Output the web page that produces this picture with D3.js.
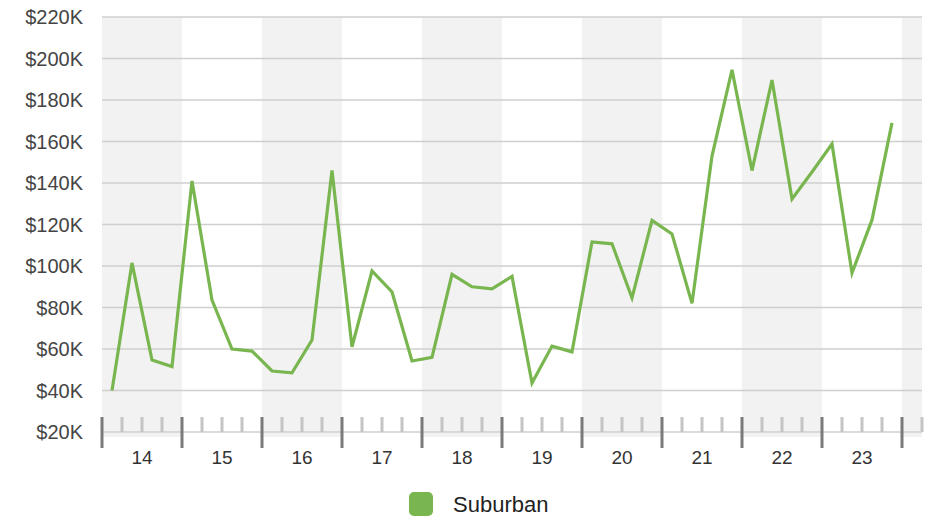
<!DOCTYPE html>
<meta charset="utf-8">
<style>
  body { margin: 0; background: #fff; }
  svg text { font-family: "Liberation Sans", Arial, sans-serif; }
  .grid line { stroke: #cfcfcf; stroke-width: 1.5px; }
  .ylab { fill: #444; font-size: 20px; }
  .xlab { fill: #333; font-size: 19px; }
</style>
<body>
<svg id="chart" width="933" height="520"></svg>
<script src="https://d3js.org/d3.v7.min.js"></script>
<script>

// quarterly values, Q1 2014 .. Q4 2023
var years = [14, 15, 16, 17, 18, 19, 20, 21, 22, 23];
var yTicks = [20000, 40000, 60000, 80000, 100000, 120000, 140000, 160000, 180000, 200000, 220000];
var suburban = [
  40000, 101500, 54700, 51500,
  141000, 83600, 60000, 59000,
  49400, 48500, 64300, 146000,
  61000, 97600, 87500, 54200,
  56000, 96000, 90000, 89000,
  95000, 43600, 61400, 58600,
  111600, 110700, 84600, 122000,
  115400, 82000, 153000, 194500,
  146000, 189600, 132300, 145300,
  158800, 96600, 122200, 169000
];
var seriesName = "Suburban";
var lineColor = "#7ab650";

const svg = d3.select("#chart");

// quarter index scale (one extra quarter at the end like the original)
const x = d3.scaleLinear().domain([0, 41]).range([102, 922]);
const y = d3.scaleLinear().domain([20000, 220000]).range([432, 17]);

// alternating year bands
const bands = d3.range(0, 11);
svg.append("g").selectAll("rect")
  .data(bands)
  .enter().append("rect")
  .attr("x", d => x(d * 4))
  .attr("y", 17)
  .attr("width", d => Math.min(x(d * 4 + 4), x(41)) - x(d * 4))
  .attr("height", 437 - 17)
  .attr("fill", d => d % 2 === 0 ? "#f2f2f2" : "#ffffff");

// gridlines
svg.append("g").attr("class", "grid").selectAll("line")
  .data(yTicks)
  .enter().append("line")
  .attr("x1", x(0)).attr("x2", x(41))
  .attr("y1", d => y(d)).attr("y2", d => y(d));

// y labels
svg.append("g").selectAll("text")
  .data(yTicks)
  .enter().append("text")
  .attr("class", "ylab")
  .attr("x", 83)
  .attr("y", d => y(d))
  .attr("dy", "0.35em")
  .attr("text-anchor", "end")
  .text(d => "$" + (d / 1000) + "K");

// minor ticks (quarters)
const minor = d3.range(1, 42).filter(d => d % 4 !== 0);
svg.append("g").selectAll("line")
  .data(minor)
  .enter().append("line")
  .attr("x1", d => x(d)).attr("x2", d => x(d))
  .attr("y1", 417).attr("y2", 432)
  .attr("stroke", "#c4c4c4")
  .attr("stroke-width", 3);

// major ticks (years)
svg.append("g").selectAll("line")
  .data(d3.range(0, 11))
  .enter().append("line")
  .attr("x1", d => x(d * 4)).attr("x2", d => x(d * 4))
  .attr("y1", 417).attr("y2", 448)
  .attr("stroke", "#7a7a7a")
  .attr("stroke-width", 3);

// year labels
svg.append("g").selectAll("text")
  .data(years)
  .enter().append("text")
  .attr("class", "xlab")
  .attr("x", (d, i) => x(i * 4 + 2))
  .attr("y", 464)
  .attr("text-anchor", "middle")
  .text(d => d);

// the line
const line = d3.line()
  .x((d, i) => x(i + 0.5))
  .y(d => y(d));

svg.append("path")
  .datum(suburban)
  .attr("d", line)
  .attr("fill", "none")
  .attr("stroke", lineColor)
  .attr("stroke-width", 3.2)
  .attr("stroke-linejoin", "miter");

// legend
const legend = svg.append("g").attr("transform", "translate(409,492)");
legend.append("rect")
  .attr("width", 24).attr("height", 24)
  .attr("rx", 5)
  .attr("fill", lineColor);
legend.append("text")
  .attr("x", 44).attr("y", 12)
  .attr("dy", "0.35em")
  .style("font-size", "22px")
  .style("fill", "#222")
  .text(seriesName);

</script>
</body>
